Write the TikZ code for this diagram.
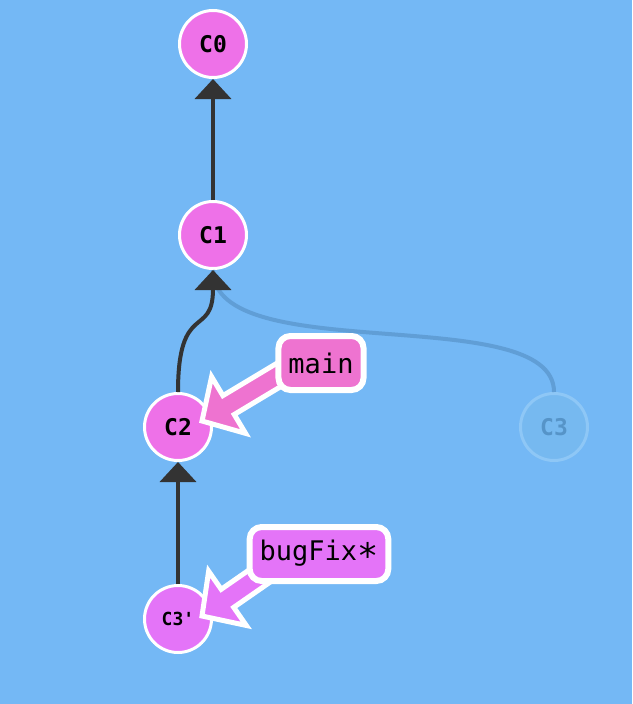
\documentclass[tikz,border=0pt]{standalone}
\usepackage{graphicx}
\usepackage{fontspec}
\newfontfamily\mono{DejaVu Sans Mono}
\usetikzlibrary{arrows.meta,calc}
\definecolor{bg}{RGB}{116,184,245}
\definecolor{commitpink}{RGB}{238,113,232}
\definecolor{mainpink}{RGB}{238,115,208}
\definecolor{fixpink}{RGB}{228,116,248}
\definecolor{edgegray}{RGB}{51,51,51}
\definecolor{ghostfill}{RGB}{118,185,240}
\definecolor{ghostdraw}{RGB}{142,199,246}
\definecolor{ghosttext}{RGB}{86,148,200}
\definecolor{ghostedge}{RGB}{96,158,214}
\tikzset{
 commit/.style={circle, draw=white, line width=3pt, fill=commitpink, minimum size=67pt, inner sep=0pt, font=\mono\bfseries\fontsize{23}{27}\selectfont},
 ghost/.style={commit, draw=ghostdraw, fill=ghostfill, text=ghosttext},
 parent/.style={draw=edgegray, line width=4pt, -{Triangle[width=36pt,length=20pt]}},
 ghostline/.style={draw=ghostedge, line width=4pt},
 branch/.style={rounded corners=12pt, draw=white, line width=6pt, font=\mono\fontsize{27}{32}\selectfont, inner xsep=10pt, inner ysep=0pt, minimum height=54pt},
 arrowbody/.style={draw=white, line width=5pt, line join=miter}
}
\newcommand\lblarrow[3]{%
 \path ($(#1)!31pt!(#2)$) coordinate (h);
 \filldraw[arrowbody, fill=#3] (#1) -- ($(h)!33pt!90:(#2)$) -- ($(h)!11pt!90:(#2)$) -- ($(#2)!11pt!-90:(h)$) -- ($(#2)!11pt!90:(h)$) -- ($(h)!11pt!-90:(#2)$) -- ($(h)!33pt!-90:(#2)$) -- cycle;
}
\begin{document}
\begin{tikzpicture}[x=1pt,y=-1pt]
\useasboundingbox (0,0) rectangle (632,704);
\fill[bg] (0,0) rectangle (632,704);
\node[commit] (C0) at (213,44) {C0};
\node[commit] (C1) at (213,235) {C1};
\node[commit] (C2) at (178,427) {C2};
\node[ghost] (C3) at (554,427) {C3};
\node[commit, fill=fixpink, font=\mono\bfseries\fontsize{18}{22}\selectfont] (C3p) at (178,619) {C3'};
\draw[ghostline] (C3.north) .. controls +(0,-92) and +(0,99) .. (C1.south);
\draw[parent] (C1.north) -- (C0.south);
\draw[parent] (C2.north) .. controls +(0,-92) and +(0,69) .. (C1.south);
\draw[parent] (C3p.north) -- (C2.south);
\coordinate (mtip) at (202,421);
\coordinate (msrc) at (292,367);
\coordinate (btip) at (202,616);
\coordinate (bsrc) at (287,557);
\lblarrow{mtip}{msrc}{mainpink}
\lblarrow{btip}{bsrc}{fixpink}
\node[branch, fill=mainpink] (main) at (321,363) {main};
\node[branch, fill=fixpink] (bugfix) at (319,554) {bugFix\raisebox{-0.3em}{\scalebox{1.3}{*}}};
\end{tikzpicture}
\end{document}
